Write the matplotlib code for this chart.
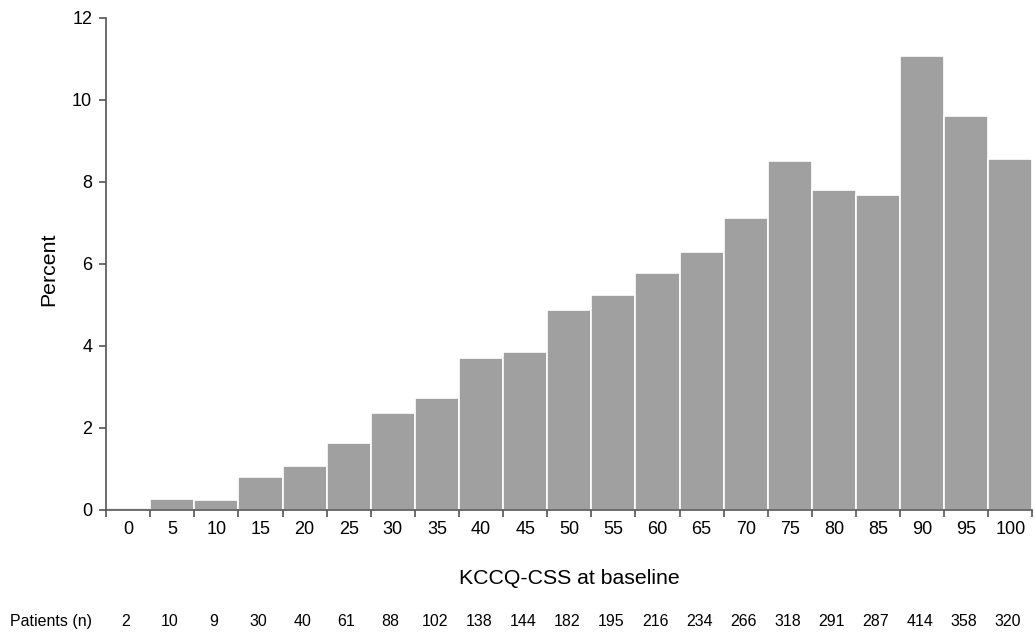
import numpy as np
import matplotlib.pyplot as plt
from matplotlib.transforms import blended_transform_factory

# ── Data ──────────────────────────────────────────────────────────────────────

SCORES   = [0, 5, 10, 15, 20, 25, 30, 35, 40, 45, 50, 55, 60, 65, 70, 75, 80, 85, 90, 95, 100]
PERCENT  = [0.05, 0.27, 0.24, 0.80, 1.06, 1.63, 2.36, 2.72, 3.70, 3.85, 4.87,
            5.23, 5.78, 6.28, 7.12, 8.52, 7.80, 7.67, 11.08, 9.60, 8.57]
PATIENTS = [2, 10, 9, 30, 40, 61, 88, 102, 138, 144, 182, 195, 216, 234, 266,
            318, 291, 287, 414, 358, 320]

plt.rcParams["font.family"] = ["Liberation Sans", "DejaVu Sans"]

fig = plt.figure(figsize=(10.35, 6.39), dpi=100)
ax = fig.add_axes([0.1025, 0.202, 0.895, 0.770])

x = np.arange(len(SCORES))
ax.bar(x, PERCENT, width=1.0, color="#a0a0a0", edgecolor="white", linewidth=1.2)

ax.set_xlim(-0.5, len(SCORES) - 0.5)
ax.set_ylim(0, 12)
ax.set_yticks([0, 2, 4, 6, 8, 10, 12])
ax.set_xticks(x)
ax.set_xticklabels([str(s) for s in SCORES])
ax.set_xticks(np.arange(-0.5, len(SCORES), 1.0), minor=True)
ax.tick_params(axis="x", which="major", length=0, pad=8, labelsize=13)
ax.tick_params(axis="x", which="minor", length=5, width=1.2, color="#555555")
ax.tick_params(axis="y", length=5, width=1.2, color="#555555", labelsize=13, pad=5)

for side in ["top", "right"]:
    ax.spines[side].set_visible(False)
for side in ["left", "bottom"]:
    ax.spines[side].set_color("#555555")
    ax.spines[side].set_linewidth(1.2)

ax.set_ylabel("Percent", fontsize=15.3)
ax.set_xlabel("KCCQ-CSS at baseline", fontsize=15.3)
ax.yaxis.set_label_coords(-0.062, 0.49)
ax.yaxis.label.set_va("center")
ax.xaxis.set_label_coords(0.5, -0.140)
ax.xaxis.label.set_va("center")

# patient counts row
tr = blended_transform_factory(ax.transData, fig.transFigure)
fig.text(0.01, 0.028, "Patients (n)", fontsize=11.5, va="center", ha="left")
for xi, n in zip(x, PATIENTS):
    ax.text(xi - 0.05, 0.028, str(n), transform=tr, fontsize=11.5, va="center", ha="center")

fig.savefig("out.png", dpi=100)
